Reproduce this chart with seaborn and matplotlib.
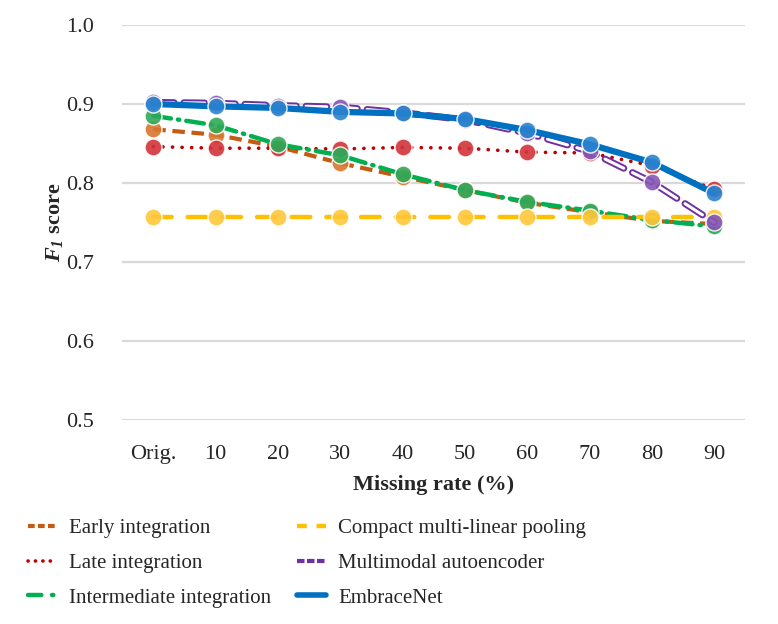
import numpy as np
import pandas as pd
import seaborn as sns
import matplotlib.pyplot as plt
from matplotlib.lines import Line2D

# missing-rate categories on the x axis
rates = ["Orig.", "10", "20", "30", "40", "50", "60", "70", "80", "90"]

early = [0.868, 0.861, 0.846, 0.825, 0.808, 0.791, 0.775, 0.763, 0.752, 0.748]
late = [0.846, 0.844, 0.844, 0.843, 0.845, 0.844, 0.839, 0.838, 0.822, 0.792]
intermediate = [0.885, 0.873, 0.849, 0.835, 0.811, 0.791, 0.776, 0.765, 0.753, 0.745]
compact = [0.757, 0.757, 0.757, 0.757, 0.757, 0.757, 0.757, 0.757, 0.757, 0.757]
autoencoder = [0.902, 0.901, 0.898, 0.896, 0.889, 0.880, 0.863, 0.840, 0.801, 0.750]
embracenet = [0.900, 0.897, 0.895, 0.890, 0.888, 0.881, 0.867, 0.849, 0.826, 0.787]

names = ["Early integration", "Late integration", "Intermediate integration",
         "Compact multi-linear pooling", "Multimodal autoencoder", "EmbraceNet"]
series = [early, late, intermediate, compact, autoencoder, embracenet]

line_cols = ["#C55A11", "#C00000", "#00B050", "#FFC000", "#7030A0", "#0070C0"]
mark_cols = ["#D9772F", "#D2343A", "#2FA858", "#FFC73A", "#8556B5", "#2A84CF"]

sns.set_style("white")
plt.rcParams["font.family"] = ["Liberation Serif", "DejaVu Serif"]
plt.rcParams["mathtext.fontset"] = "custom"
# only the y label uses mathtext: make F and the subscript 1 both italic
plt.rcParams["mathtext.it"] = "Liberation Serif:italic:bold"
plt.rcParams["mathtext.rm"] = "Liberation Serif:italic:bold"

df = pd.DataFrame({"x": np.arange(len(rates))})

fig = plt.figure(figsize=(7.78, 6.24), dpi=100)
ax = fig.add_axes([0.157, 0.327, 0.801, 0.633])

styles = [
    dict(lw=3.0, dashes=(3, 1.6), capstyle="butt"),
    dict(lw=2.6, dashes=(0.05, 2.6), capstyle="round"),
    dict(lw=3.2, dashes=(4, 1.6, 0.3, 1.6), capstyle="round"),
    dict(lw=3.2, dashes=(4.2, 3.6), capstyle="round"),
    None,
    dict(lw=4.5, dashes=None, capstyle="butt"),
]

for i, (name, vals) in enumerate(zip(names, series)):
    df["y"] = vals
    st = styles[i]
    if st is None:
        # double-line dashed look
        sns.lineplot(data=df, x="x", y="y", ax=ax, color=line_cols[i], lw=5,
                     zorder=3 + i)
        ax.lines[-1].set_dashes((3, 1.4))
        ax.lines[-1].set_dash_capstyle("round")
        sns.lineplot(data=df, x="x", y="y", ax=ax, color="white", lw=2.2,
                     zorder=3 + i)
        ax.lines[-1].set_dashes((6.8, 3.2))
        ax.lines[-1].set_dash_capstyle("round")
    else:
        sns.lineplot(data=df, x="x", y="y", ax=ax, color=line_cols[i], lw=st["lw"],
                     zorder=3 + i)
        if st["dashes"] is not None:
            ax.lines[-1].set_dashes(st["dashes"])
        ax.lines[-1].set_dash_capstyle(st["capstyle"])
    sns.scatterplot(data=df, x="x", y="y", ax=ax, color=mark_cols[i], s=150,
                    edgecolor="white", linewidth=1.0, alpha=0.9, zorder=3.5 + i)

ax.set_xlim(-0.5, len(rates) - 0.5)
ax.set_ylim(0.5, 1.0)
ax.set_yticks([0.5, 0.6, 0.7, 0.8, 0.9, 1.0])
ax.set_yticklabels(["0.5", "0.6", "0.7", "0.8", "0.9", "1.0"])
ax.set_xticks(np.arange(len(rates)))
ax.set_xticklabels(rates)
ax.tick_params(axis="both", length=0, labelsize=16)
ax.tick_params(axis="y", pad=20)
ax.tick_params(axis="x", pad=18)
ax.yaxis.grid(True, color="#D9D9D9", lw=1.6)
ax.set_axisbelow(True)
for s in ax.spines.values():
    s.set_visible(False)

ax.set_xlabel("Missing rate (%)", fontsize=16, fontweight="bold", labelpad=8)
ax.set_ylabel(r"$F_{1}$ score", fontsize=16, fontweight="bold", labelpad=1)

handles = [
    Line2D([], [], color=line_cols[0], lw=3.0, dashes=(1.6, 0.8)),
    Line2D([], [], color=line_cols[1], lw=2.6, dashes=(0.05, 2.0), dash_capstyle="round"),
    Line2D([], [], color=line_cols[2], lw=3.2, dashes=(3, 2.4, 0.3, 2.4), dash_capstyle="round"),
    Line2D([], [], color=line_cols[3], lw=3.2, dashes=(2.2, 2.2)),
    Line2D([], [], color=line_cols[4], lw=3.0, dashes=(1.8, 0.6)),
    Line2D([], [], color=line_cols[5], lw=4.0),
]
fig.legend(handles, names, loc="upper left", bbox_to_anchor=(0.025, 0.182), ncol=2,
           frameon=False, fontsize=15, handlelength=1.4, handletextpad=0.6,
           columnspacing=1.2, labelspacing=0.72, borderaxespad=0)

plt.savefig("out.png", dpi=100)
plt.close()
